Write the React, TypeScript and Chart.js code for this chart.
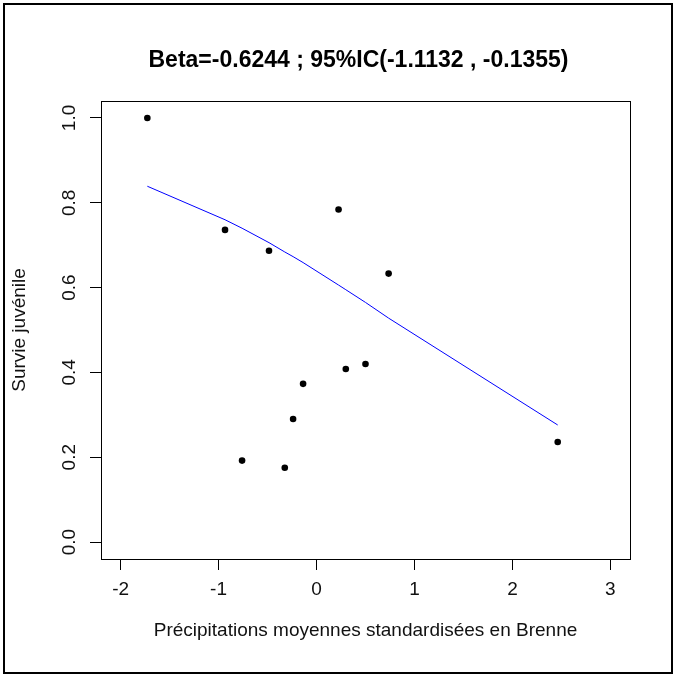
import React, { useEffect, useRef } from "react";
import { Chart, registerables } from "chart.js";

Chart.register(...registerables);

const titleText = "Beta=-0.6244 ; 95%IC(-1.1132 , -0.1355)";
const xTitle = "Précipitations moyennes standardisées en Brenne";
const yTitle = "Survie juvénile";

// observed points (x: standardized precipitation, y: juvenile survival)
const obsX = [-1.727, -0.934, -0.485, 0.225, 0.736, -0.760, -0.324, -0.239, -0.137, 0.299, 0.500, 2.462];
const obsY = [1.0, 0.736, 0.687, 0.784, 0.633, 0.192, 0.175, 0.290, 0.373, 0.408, 0.420, 0.236];

// fitted curve, read at sorted x values
const fitX = [-1.727, -0.934, -0.760, -0.485, -0.324, -0.239, -0.137, 0.225, 0.299, 0.500, 0.736, 2.462];
const fitY = [0.839, 0.760, 0.740, 0.706, 0.684, 0.673, 0.659, 0.606, 0.595, 0.565, 0.528, 0.276];

const xTicks = [-2, -1, 0, 1, 2, 3];
const yTicks = [0, 0.2, 0.4, 0.6, 0.8, 1.0];

const FONT = "'Liberation Sans', Arial, sans-serif";

export default function App() {
  const ref = useRef<HTMLCanvasElement | null>(null);

  useEffect(() => {
    if (!ref.current) return;
    const framePlugin = {
      id: "framePlugin",
      afterDraw(chart: any) {
        const { ctx, chartArea } = chart;
        ctx.save();
        ctx.strokeStyle = "#000";
        ctx.lineWidth = 1;
        ctx.strokeRect(
          Math.round(chartArea.left) + 0.5,
          Math.round(chartArea.top) + 0.5,
          Math.round(chartArea.right - chartArea.left),
          Math.round(chartArea.bottom - chartArea.top)
        );
        // outer figure frame
        ctx.lineWidth = 2;
        ctx.strokeRect(4, 4, 668, 669);
        // titles
        const cx = (chartArea.left + chartArea.right) / 2;
        const cy = (chartArea.top + chartArea.bottom) / 2;
        ctx.fillStyle = "#000";
        ctx.textAlign = "center";
        ctx.textBaseline = "middle";
        ctx.font = `bold 23px ${FONT}`;
        ctx.fillText(titleText, cx - 7, 61);
        ctx.fillStyle = "#111";
        ctx.font = `19px ${FONT}`;
        ctx.fillText(xTitle, cx, 631);
        ctx.translate(20, cy);
        ctx.rotate(-Math.PI / 2);
        ctx.fillText(yTitle, 0, 0);
        ctx.restore();
      },
    };

    const chart = new Chart(ref.current, {
      type: "scatter",
      data: {
        datasets: [
          {
            label: "fit",
            data: fitX.map((x, i) => ({ x, y: fitY[i] })),
            showLine: true,
            borderColor: "#0000ff",
            borderWidth: 1,
            pointRadius: 0,
            fill: false,
            tension: 0,
          },
          {
            label: "obs",
            data: obsX.map((x, i) => ({ x, y: obsY[i] })),
            backgroundColor: "#000",
            borderColor: "#000",
            pointRadius: 3.3,
            pointBorderWidth: 0,
          },
        ],
      },
      plugins: [framePlugin],
      options: {
        animation: false,
        responsive: false,
        devicePixelRatio: 1,
        layout: { padding: { top: 101, right: 46, left: 0, bottom: 0 } },
        plugins: { legend: { display: false }, tooltip: { enabled: false }, title: { display: false } },
        scales: {
          x: {
            type: "linear",
            min: -2.2,
            max: 3.2,
            afterBuildTicks: (s: any) => {
              s.ticks = xTicks.map((v) => ({ value: v }));
            },
            afterFit: (s: any) => {
              s.height = 118;
            },
            grid: { drawOnChartArea: false, drawTicks: true, tickLength: 11, tickColor: "#000", color: "#000" },
            border: { display: true, color: "#000", width: 1 },
            ticks: {
              color: "#111",
              font: { family: FONT, size: 19 },
              padding: 8,
              maxRotation: 0,
              minRotation: 0,
              callback: (v: any) => String(v),
            },
          },
          y: {
            type: "linear",
            min: -0.04,
            max: 1.04,
            afterBuildTicks: (s: any) => {
              s.ticks = yTicks.map((v) => ({ value: v }));
            },
            afterFit: (s: any) => {
              s.width = 101;
            },
            grid: { drawOnChartArea: false, drawTicks: true, tickLength: 11, tickColor: "#000", color: "#000" },
            border: { display: true, color: "#000", width: 1 },
            ticks: {
              color: "#111",
              font: { family: FONT, size: 19 },
              padding: 7,
              minRotation: 90,
              maxRotation: 90,
              crossAlign: "center",
              callback: (v: any) => Number(v).toFixed(1),
            },
          },
        },
      },
    });
    return () => chart.destroy();
  }, []);

  return (
    <div style={{ position: "fixed", left: 0, top: 0, width: 676, height: 677, background: "#fff" }}>
      <canvas ref={ref} width={676} height={677} style={{ width: 676, height: 677, display: "block" }} />
    </div>
  );
}
